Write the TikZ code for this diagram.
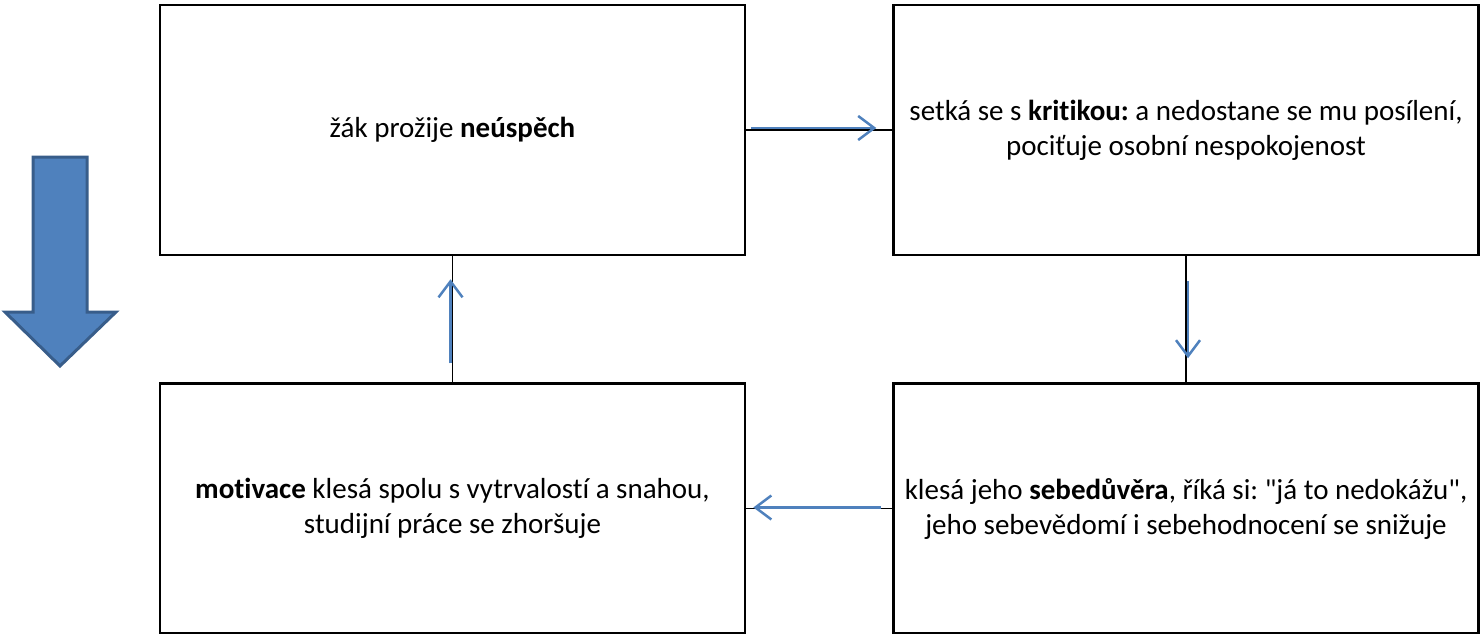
\documentclass[tikz,border=0pt]{standalone}
\usepackage{fontspec}
\setmainfont{Carlito}[Ligatures={TeXOff, NoCommon}]
\usetikzlibrary{positioning, arrows.meta}
\definecolor{officeblue}{RGB}{79,129,189}
\definecolor{officeedge}{RGB}{56,93,138}
\frenchspacing

\begin{document}
\begin{tikzpicture}[x=1pt, y=-1pt,
    font=\fontsize{29}{35}\selectfont,
    box/.style={draw, line width=2.5pt, minimum width=585pt,
                minimum height=250pt, align=center, inner sep=0pt},
    link/.style={line width=1.2pt},
    flow/.style={officeblue, line width=2.5pt,
                 -{Straight Barb[length=16pt, width=24pt, line width=2.5pt]}}]
    \useasboundingbox (0,0) rectangle (1483,634);
    % Add the boxes
        \node[box] (fail) at (452.5,130) {žák prožije \textbf{neúspěch}};
        \node[box,
              right=146pt of fail] (crit)
              {setká se s \textbf{kritikou:} a nedostane se mu posílení,\\
               pociťuje osobní nespokojenost};
        \node[box,
              below=126pt of crit] (conf)
              {klesá jeho \textbf{sebedůvěra}, říká si: "já to nedokážu",\\
               jeho sebevědomí i sebehodnocení se snižuje};
        \node[box,
              below=126pt of fail] (motiv)
              {\textbf{motivace} klesá spolu s vytrvalostí a snahou,\\
               studijní práce se zhoršuje};

    % black links between the boxes
        \draw[link] (fail) -- (crit);
        \draw[link] (crit) -- (conf);
        \draw[link] (conf) -- (motiv);
        \draw[link] (motiv) -- (fail);

    % blue arrows
        \draw[flow, shorten <=5pt, shorten >=16pt,
              transform canvas={yshift=2pt}] (fail) -- (crit);
        \draw[flow, shorten <=25pt, shorten >=24pt,
              transform canvas={xshift=2pt}] (crit) -- (conf);
        \draw[flow, shorten <=11pt, shorten >=7pt,
              transform canvas={yshift=1pt}] (conf) -- (motiv);
        \draw[flow, shorten <=19pt, shorten >=23pt,
              transform canvas={xshift=-2pt}] (motiv) -- (fail);

    % big arrow on the left
        \draw[fill=officeblue, draw=officeedge, line width=3pt]
            (33,157) -- (87,157) -- (87,312) -- (116,312) -- (60,366)
            -- (5,312) -- (33,312) -- cycle;
\end{tikzpicture}
\end{document}
